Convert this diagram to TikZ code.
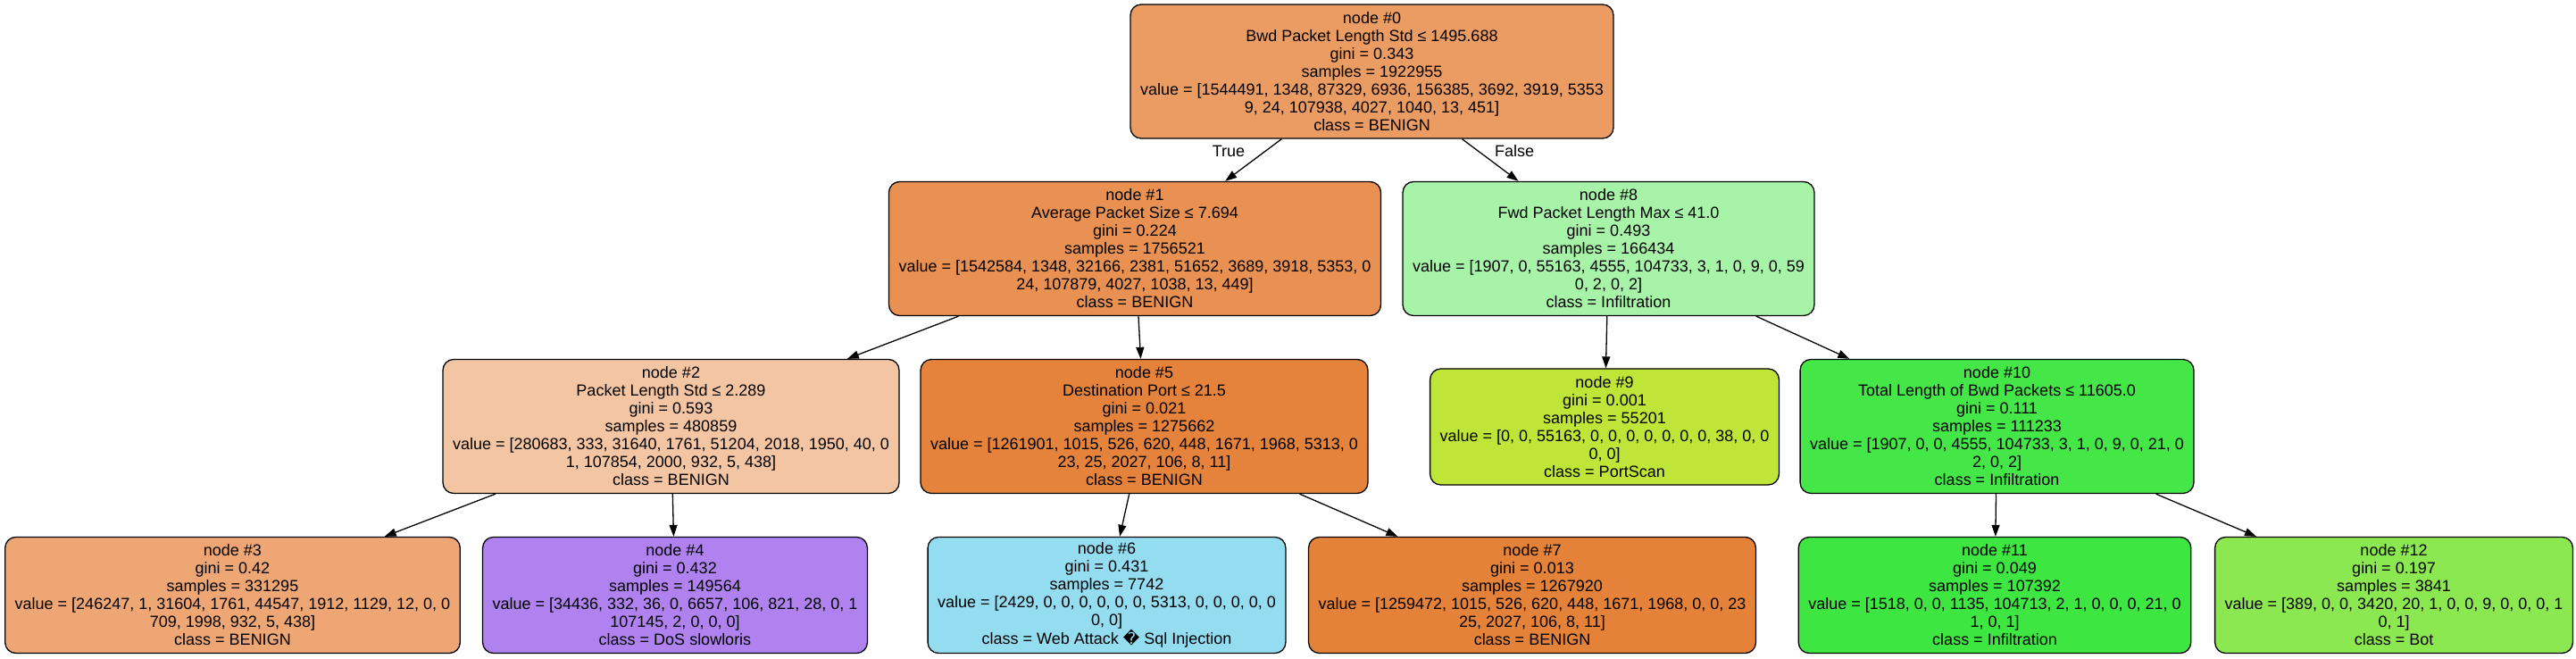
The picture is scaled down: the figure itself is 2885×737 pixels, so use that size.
\documentclass[tikz,border=0pt]{standalone}
\usepackage{fontspec}
\setmainfont{Liberation Sans}
\newfontfamily\symfont{DejaVu Sans}
\usetikzlibrary{arrows.meta}
\definecolor{colA}{RGB}{235,156,99}
\definecolor{colB}{RGB}{232,145,83}
\definecolor{colC}{RGB}{243,197,163}
\definecolor{colD}{RGB}{237,166,116}
\definecolor{colE}{RGB}{175,130,239}
\definecolor{colF}{RGB}{229,130,59}
\definecolor{colG}{RGB}{148,221,241}
\definecolor{colH}{RGB}{229,130,58}
\definecolor{colI}{RGB}{167,243,168}
\definecolor{colJ}{RGB}{192,229,57}
\definecolor{colK}{RGB}{69,231,72}
\definecolor{colL}{RGB}{62,230,65}
\definecolor{colM}{RGB}{139,232,81}

\begin{document}
\begin{tikzpicture}[x=1pt, y=1pt,
treenode/.style={rectangle, rounded corners=12pt, draw=black, line width=1.3pt, align=center, inner xsep=11pt, inner ysep=0pt, font=\fontsize{18}{20}\selectfont},
splitnode/.style={treenode, minimum height=150pt},
leafnode/.style={treenode, minimum height=130pt},
branch/.style={-{Triangle[length=13pt,width=9pt]}, line width=1.3pt},
edgelabel/.style={font=\fontsize{18}{20}\selectfont},
]
\useasboundingbox (0,0) rectangle (2885,737);
%nodes
\node[splitnode, fill=colA](n0) at (1536.5, 657) {node \#0\\Bwd Packet Length Std ≤ 1495.688\\gini = 0.343\\samples = 1922955\\value = [1544491, 1348, 87329, 6936, 156385, 3692, 3919, 5353\\9, 24, 107938, 4027, 1040, 13, 451]\\class = BENIGN};
\node[splitnode, fill=colB](n1) at (1271, 458.5) {node \#1\\Average Packet Size ≤ 7.694\\gini = 0.224\\samples = 1756521\\value = [1542584, 1348, 32166, 2381, 51652, 3689, 3918, 5353, 0\\24, 107879, 4027, 1038, 13, 449]\\class = BENIGN};
\node[splitnode, fill=colI](n8) at (1801.5, 458.5) {node \#8\\Fwd Packet Length Max ≤ 41.0\\gini = 0.493\\samples = 166434\\value = [1907, 0, 55163, 4555, 104733, 3, 1, 0, 9, 0, 59\\0, 2, 0, 2]\\class = Infiltration};
\node[splitnode, fill=colC](n2) at (751.5, 259.5) {node \#2\\Packet Length Std ≤ 2.289\\gini = 0.593\\samples = 480859\\value = [280683, 333, 31640, 1761, 51204, 2018, 1950, 40, 0\\1, 107854, 2000, 932, 5, 438]\\class = BENIGN};
\node[splitnode, fill=colF](n5) at (1281.5, 259.5) {node \#5\\Destination Port ≤ 21.5\\gini = 0.021\\samples = 1275662\\value = [1261901, 1015, 526, 620, 448, 1671, 1968, 5313, 0\\23, 25, 2027, 106, 8, 11]\\class = BENIGN};
\node[leafnode, fill=colJ](n9) at (1797, 259) {node \#9\\gini = 0.001\\samples = 55201\\value = [0, 0, 55163, 0, 0, 0, 0, 0, 0, 0, 38, 0, 0\\0, 0]\\class = PortScan};
\node[splitnode, fill=colK](n10) at (2236.5, 259.5) {node \#10\\Total Length of Bwd Packets ≤ 11605.0\\gini = 0.111\\samples = 111233\\value = [1907, 0, 0, 4555, 104733, 3, 1, 0, 9, 0, 21, 0\\2, 0, 2]\\class = Infiltration};
\node[leafnode, fill=colD](n3) at (260.5, 70.5) {node \#3\\gini = 0.42\\samples = 331295\\value = [246247, 1, 31604, 1761, 44547, 1912, 1129, 12, 0, 0\\709, 1998, 932, 5, 438]\\class = BENIGN};
\node[leafnode, fill=colE](n4) at (756, 70.5) {node \#4\\gini = 0.432\\samples = 149564\\value = [34436, 332, 36, 0, 6657, 106, 821, 28, 0, 1\\107145, 2, 0, 0, 0]\\class = DoS slowloris};
\node[leafnode, fill=colG](n6) at (1239.5, 70.5) {node \#6\\gini = 0.431\\samples = 7742\\value = [2429, 0, 0, 0, 0, 0, 0, 5313, 0, 0, 0, 0, 0\\0, 0]\\class = Web Attack {\symfont\symbol{"FFFD}} Sql Injection};
\node[leafnode, fill=colH](n7) at (1716, 70.5) {node \#7\\gini = 0.013\\samples = 1267920\\value = [1259472, 1015, 526, 620, 448, 1671, 1968, 0, 0, 23\\25, 2027, 106, 8, 11]\\class = BENIGN};
\node[leafnode, fill=colL](n11) at (2234, 70.5) {node \#11\\gini = 0.049\\samples = 107392\\value = [1518, 0, 0, 1135, 104713, 2, 1, 0, 0, 0, 21, 0\\1, 0, 1]\\class = Infiltration};
\node[leafnode, fill=colM](n12) at (2681, 70.5) {node \#12\\gini = 0.197\\samples = 3841\\value = [389, 0, 0, 3420, 20, 1, 0, 0, 9, 0, 0, 0, 1\\0, 1]\\class = Bot};
\node[edgelabel](ltrue) at (1376, 568) {True};
\node[edgelabel](lfalse) at (1696, 568) {False};
%connections
\draw[branch] (n0) -- (n1);
\draw[branch] (n0) -- (n8);
\draw[branch] (n1) -- (n2);
\draw[branch] (n1) -- (n5);
\draw[branch] (n2) -- (n3);
\draw[branch] (n2) -- (n4);
\draw[branch] (n5) -- (n6);
\draw[branch] (n5) -- (n7);
\draw[branch] (n8) -- (n9);
\draw[branch] (n8) -- (n10);
\draw[branch] (n10) -- (n11);
\draw[branch] (n10) -- (n12);
\end{tikzpicture}
\end{document}
